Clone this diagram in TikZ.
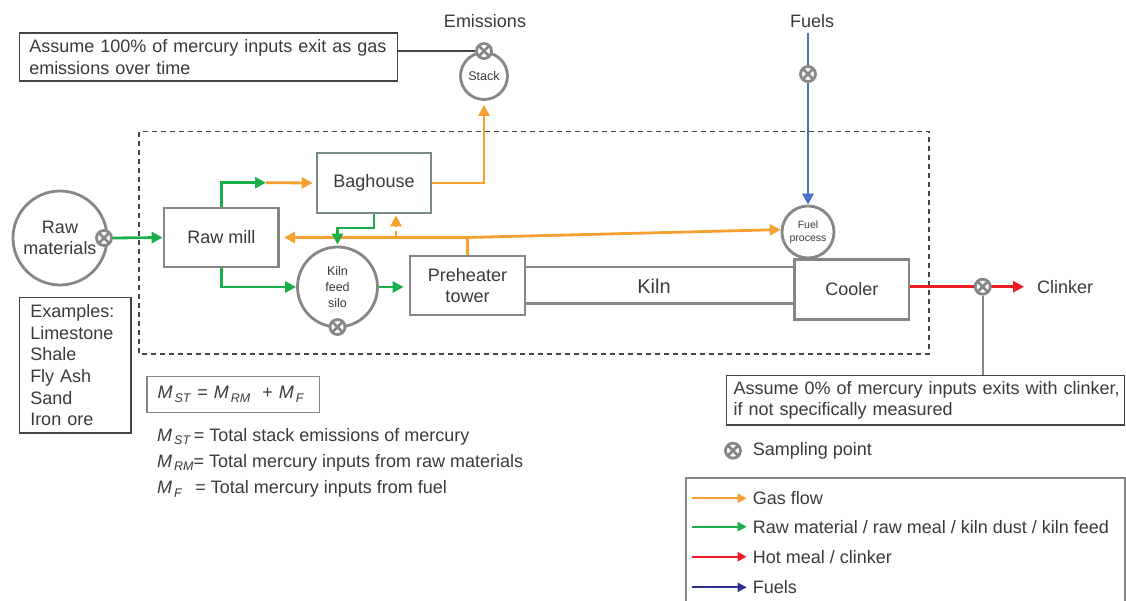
\documentclass[tikz,border=0pt]{standalone}
\usepackage{fontspec}
\setmainfont{Liberation Sans}
\usetikzlibrary{arrows.meta,calc}
\definecolor{txt}{HTML}{3A3A3A}
\definecolor{boxg}{HTML}{868686}
\definecolor{bagg}{HTML}{7A8A8A}
\definecolor{gorange}{HTML}{F5A030}
\definecolor{ggreen}{HTML}{1BAF4B}
\definecolor{gred}{HTML}{EC1C24}
\definecolor{gblue}{HTML}{4472C4}
\definecolor{gnavy}{HTML}{2E3192}
\definecolor{noteline}{HTML}{444444}
\newcommand\fsmain{\fontsize{18}{21.7}\selectfont}
\newcommand\Msub[1]{\textit{M}\hspace{2pt}\raisebox{-3.5pt}{\fontsize{12.5}{12.5}\selectfont\textit{#1}}}
\begin{document}
\begin{tikzpicture}[x=1pt,y=-1pt,
  every node/.style={text=txt,font=\fsmain},
  unit/.style={draw=boxg, line width=2.8pt, fill=white, minimum width=114pt, minimum height=59pt, align=center, inner sep=0pt},
  vessel/.style={draw=boxg, circle, line width=2.8pt, fill=white, inner sep=0pt, align=center},
  notebox/.style={draw=noteline, line width=1.3pt, align=left, inner sep=0pt, anchor=north west},
  samp/.style={circle, draw=boxg, fill=white, line width=2.8pt, minimum size=15pt, inner sep=0pt,
    path picture={\draw[boxg,line width=2.8pt] (path picture bounding box.north west)--(path picture bounding box.south east) (path picture bounding box.north east)--(path picture bounding box.south west);}},
  tip/.style={-{Triangle[length=11pt,width=11pt]}},
  ltip/.style={-{Triangle[length=9pt,width=9pt]}},
  gas/.style={draw=gorange, line width=2.8pt},
  feed/.style={draw=ggreen, line width=2.8pt},
  hot/.style={draw=gred, line width=2.8pt},
  fuel/.style={draw=gblue, line width=2.8pt},
  conn/.style={draw=noteline, line width=1.6pt},
  connb/.style={draw=boxg, line width=1.8pt},
]
\useasboundingbox (0,0) rectangle (1126,601);

% system boundary
\draw[draw=noteline, line width=1.2pt, dash pattern=on 5pt off 4pt] (139,131.7) rectangle (929,354);

% kiln body (drawn first so the boxes cover its ends)
\node[minimum width=269.6pt, minimum height=36pt, inner sep=0pt] (kiln) at (659.8,285.3) {};
\draw[draw=boxg, line width=2.8pt] (kiln.north west) -- (kiln.north east) (kiln.south west) -- (kiln.south east);
\node[font=\fontsize{20}{24}\selectfont] (kilnlbl) at (654,286.7) {Kiln};

% units
\node[unit, draw=bagg, minimum width=114pt, minimum height=60pt] (bag) at (374,183) {Baghouse};
\node[unit, minimum width=114.6pt] (mill) at (221.3,237.5) {Raw mill};
\node[unit, minimum width=115pt] (pre) at (467.5,285.5) {Preheater\\tower};
\node[unit, minimum width=114.4pt, minimum height=60pt] (cool) at (851.8,289.3) {Cooler};

\node[vessel, minimum size=94pt, font=\fsmain] (raw) at (60,238) {Raw\\materials};
\node[vessel, minimum size=80pt, font=\fontsize{12.5}{16}\selectfont] (silo) at (337.5,287) {Kiln\\feed\\silo};
\node[vessel, minimum size=47pt, font=\fontsize{12.5}{15}\selectfont] (stack) at (484,76) {Stack};
\node[vessel, minimum size=52pt, font=\fontsize{10.5}{13.3}\selectfont] (fuelp) at (808,232) {Fuel\\process};

% labels
\node (emis) at (485,21) {Emissions};
\node (fuels) at (812,21) {Fuels};
\node[anchor=west, inner sep=0pt] (clinker) at (1037,287) {Clinker};

% notes
\node[notebox, minimum width=378.2pt, text width=358.2pt, minimum height=48pt] (note1) at (18.6,32.3)
  {\mbox{Assume 100\% of mercury inputs exit as gas}\\\mbox{emissions over time}};
\node[notebox, minimum width=398.3pt, text width=383.7pt, minimum height=49.3pt] (note2) at (725.7,375)
  {\mbox{Assume 0\% of mercury inputs exits with clinker,}\\\mbox{if not specifically measured}};
\node[notebox, minimum width=111.8pt, text width=89.8pt, minimum height=135.6pt] (examples) at (18.6,296.7)
  {Examples:\\Limestone\\Shale\\Fly Ash\\Sand\\Iron ore};
\node[notebox, minimum width=172.6pt, text width=151.4pt, minimum height=36pt, draw=boxg] (formula) at (146.4,375.7)
  {\mbox{\raisebox{-2pt}{\Msub{ST} = \Msub{RM}\ \ + \Msub{F}}}};
\node[anchor=west, inner sep=0pt] (d1) at (157,436.7) {\Msub{ST}\,= Total stack emissions of mercury};
\node[anchor=west, inner sep=0pt] (d2) at (157,462.7) {\Msub{RM}= Total mercury inputs from raw materials};
\node[anchor=west, inner sep=0pt] (d3) at (157,489.3) {\Msub{F}\ \ \,= Total mercury inputs from fuel};

% coordinates
\coordinate (gt) at (266,182.7);
\coordinate (bj) at (337.5,228);
\coordinate (pj) at (467.5,237.5);
\coordinate (dj) at (396,237.5);
\coordinate (ftop) at (808,33);
\coordinate (cend) at (1024,286.7);

% gas path
\draw[gas] (pre.north) -- (pj);
\draw[gas, tip, shorten >=4pt] (pj) -- (mill.east);
\draw[gas, tip] (pj) -- (fuelp.175);
\draw[gas, tip, dash pattern=on 6pt off 4pt, shorten >=1pt] (dj) -- (dj |- bag.south);
\draw[gas, tip, shorten >=4pt] (bag.east) -| (stack.south);
\draw[gas, tip, shorten >=3pt] (gt) -- (bag.west);

% raw material path
\draw[feed, tip] (mill.north) |- (gt);
\draw[feed, tip] (mill.south) |- (silo.west);
\draw[feed, tip, shorten >=5pt] (silo.east) -- (silo.east -| pre.west);
\draw[feed, tip, shorten >=1pt] (bag.south) |- (bj) -- (silo.north);

% fuels and clinker
\draw[fuel, tip] (ftop) -- (fuelp.north);
\draw[hot, tip] (cool.east |- cend) -- (cend);

% raw material input
\node[samp] (s2) at (104,238) {};
\draw[feed, tip] (s2.east) -- (mill.west);

% sampling points
\node[samp] (s1) at (484,51) {};
\node[samp] (s3) at (337.5,327) {};
\node[samp] (s4) at (808,74) {};
\node[samp] (s5) at (982.7,286.7) {};

\draw[conn] (note1.east |- s1) -- (s1.west);
\draw[connb] (s5.south) -- (s5.south |- note2.north);

% legend
\node[samp] (sp) at (733,450.7) {};
\node[anchor=west, inner sep=0pt] (sptxt) at (752.7,450.7) {Sampling point};
\draw[draw=boxg, line width=2pt] (686,604) -- (686,478.3) -- (1125,478.3) -- (1125,604);
\node[anchor=west, inner sep=0pt] (lg1) at (752.7,498.3) {Gas flow};
\node[anchor=west, inner sep=0pt] (lg2) at (752.7,526.7) {Raw material / raw meal / kiln dust / kiln feed};
\node[anchor=west, inner sep=0pt] (lg3) at (752.7,556.7) {Hot meal / clinker};
\node[anchor=west, inner sep=0pt] (lg4) at (752.7,587.3) {Fuels};
\coordinate (la1) at (691.7,498.3);
\coordinate (la2) at (691.7,526.7);
\coordinate (la3) at (691.7,556.7);
\coordinate (la4) at (691.7,587.3);
\draw[draw=gorange, line width=2pt, ltip, shorten >=6pt] (la1) -- (lg1.west);
\draw[draw=ggreen, line width=2pt, ltip, shorten >=6pt] (la2) -- (lg2.west);
\draw[draw=gred, line width=2pt, ltip, shorten >=6pt] (la3) -- (lg3.west);
\draw[draw=gnavy, line width=2pt, ltip, shorten >=6pt] (la4) -- (lg4.west);
\end{tikzpicture}
\end{document}
